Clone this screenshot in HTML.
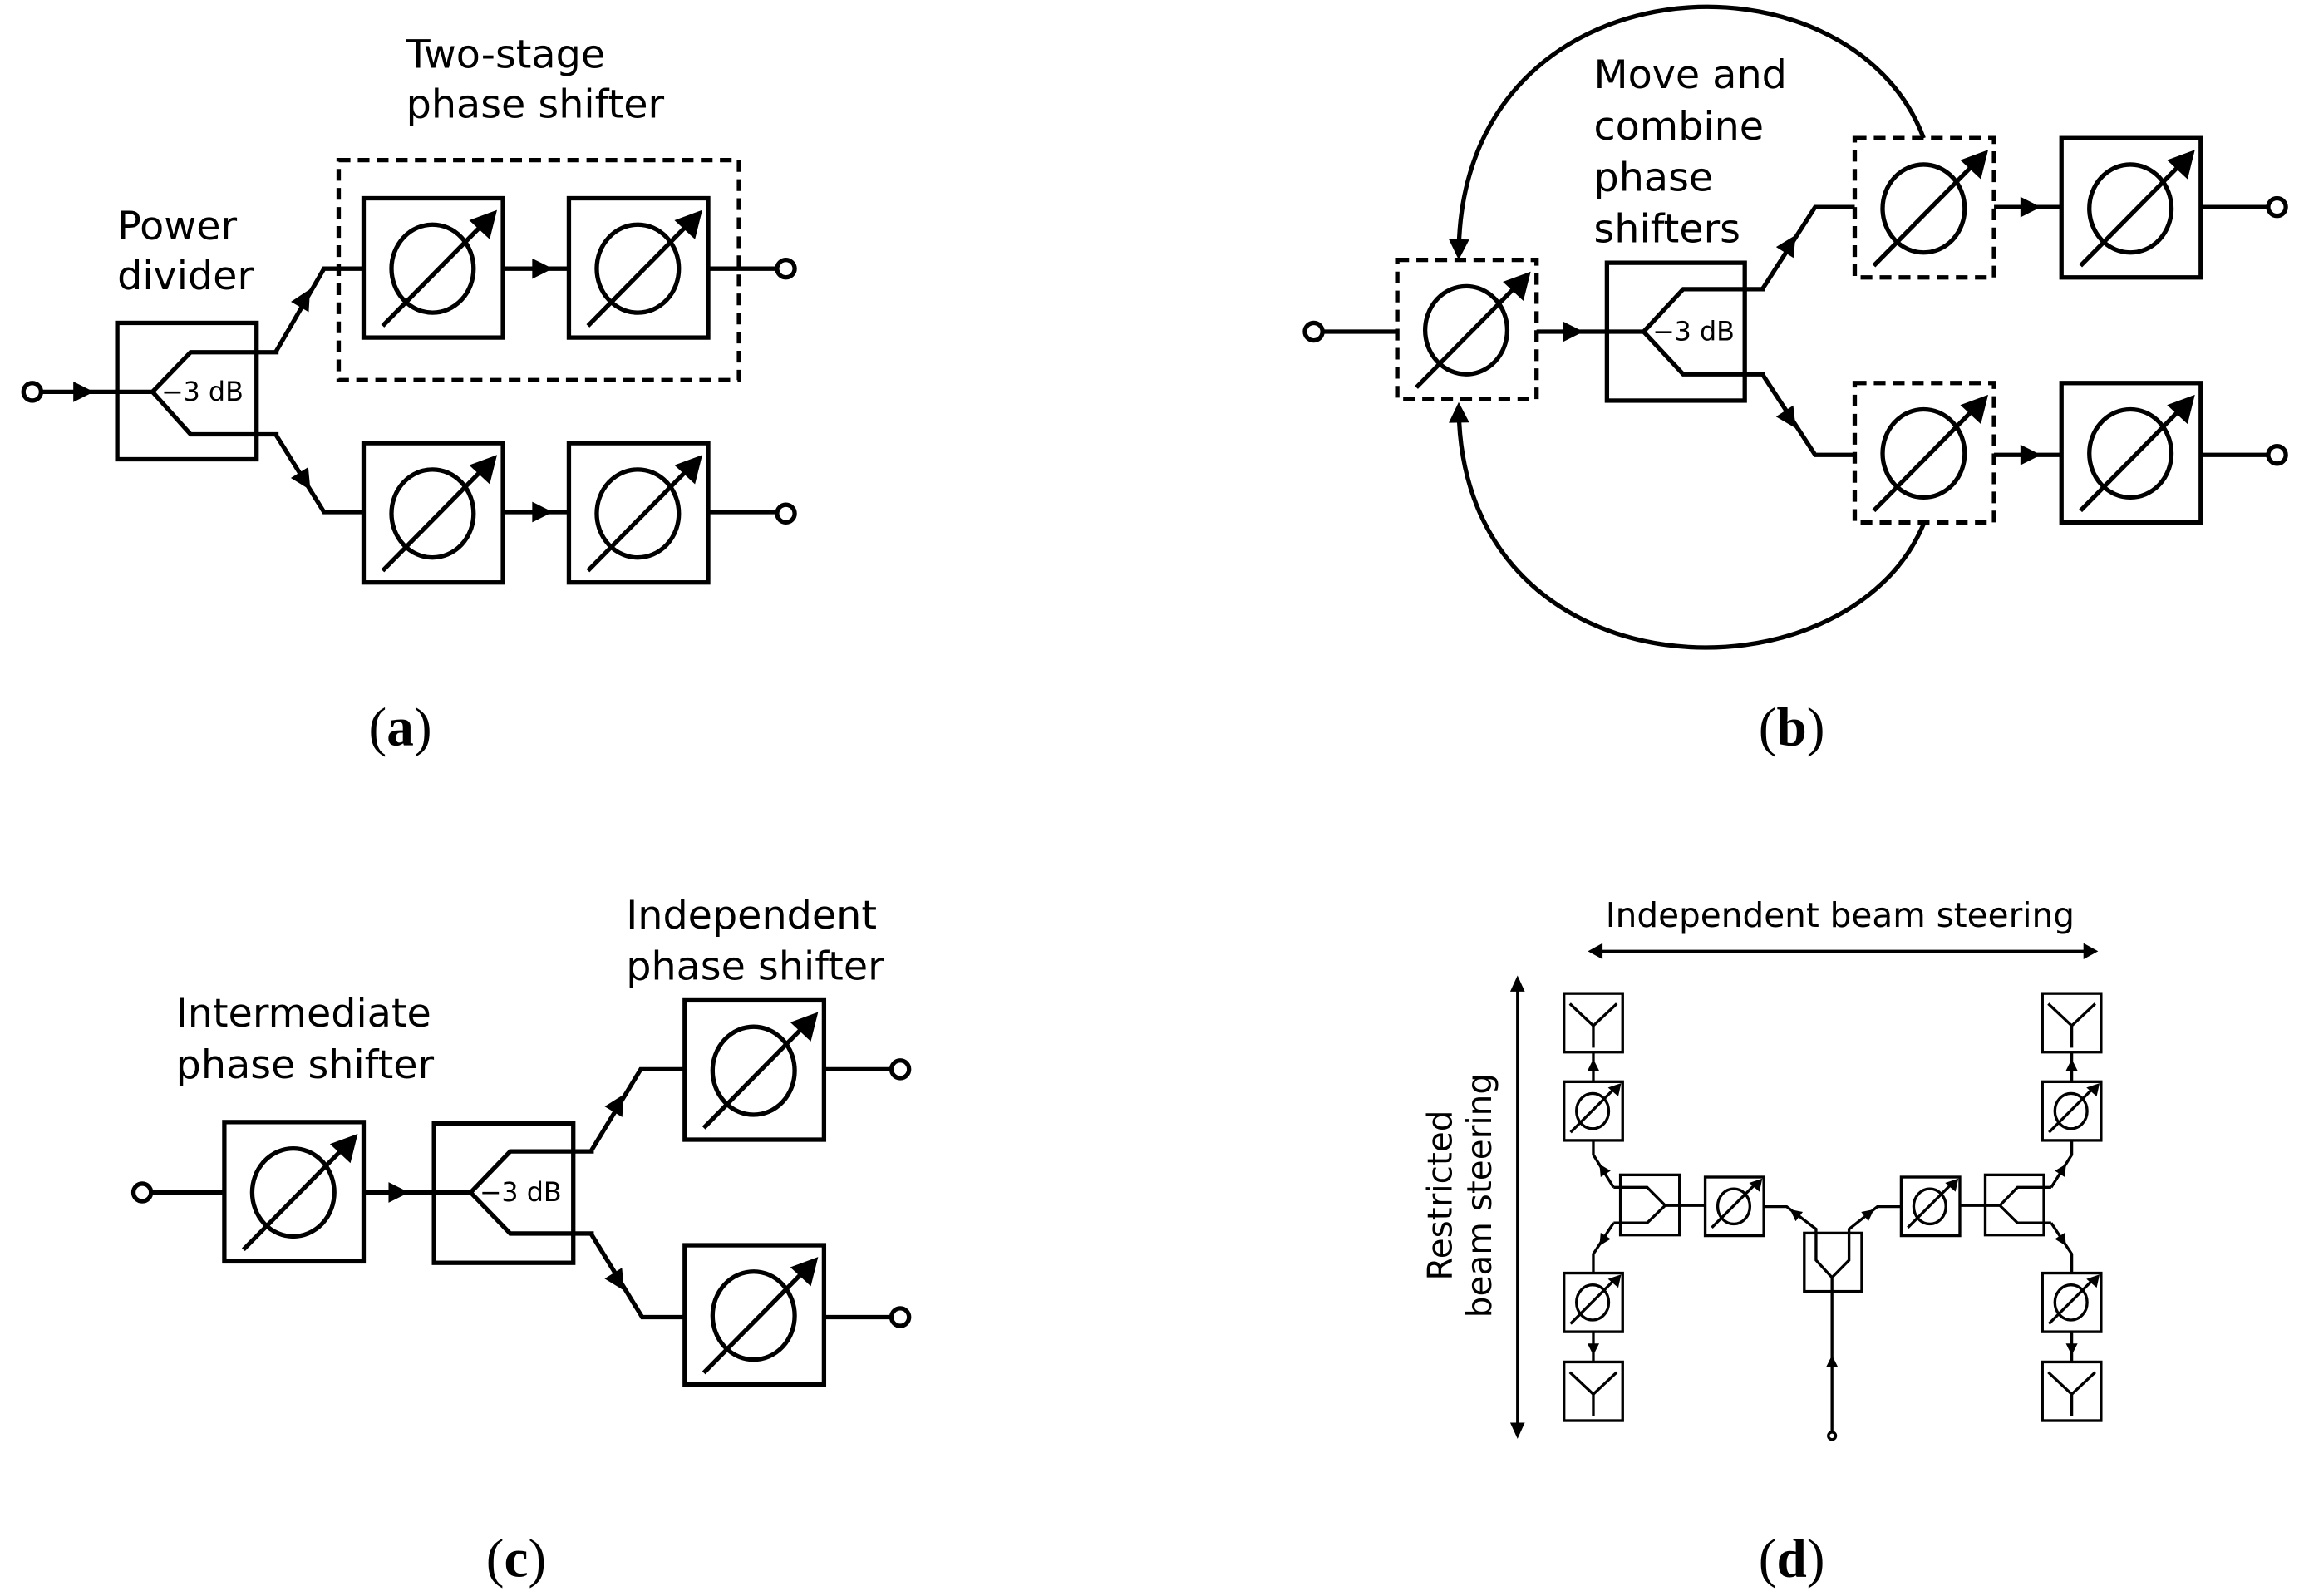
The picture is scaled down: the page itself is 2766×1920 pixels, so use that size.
<!DOCTYPE html>
<html><head><meta charset="utf-8"><style>html,body{margin:0;padding:0;background:#fff}svg{display:block}</style></head>
<body>
<svg width="2766" height="1920" viewBox="0 0 1568 1088" xmlns="http://www.w3.org/2000/svg">
<defs>
<g id="ps">
<rect x="0" y="0" width="95" height="95" fill="none" stroke="#000" stroke-width="3"/>
<ellipse cx="47" cy="48" rx="28" ry="30" fill="none" stroke="#000" stroke-width="3"/>
<line x1="13" y1="87" x2="82" y2="17" stroke="#000" stroke-width="3"/>
<polygon points="91,8 86,28 72,15" fill="#000"/>
</g>
<g id="psd">
<rect x="0" y="0" width="95" height="95" fill="none" stroke="#000" stroke-width="3" stroke-dasharray="8 5"/>
<ellipse cx="47" cy="48" rx="28" ry="30" fill="none" stroke="#000" stroke-width="3"/>
<line x1="13" y1="87" x2="82" y2="17" stroke="#000" stroke-width="3"/>
<polygon points="91,8 86,28 72,15" fill="#000"/>
</g>
<g id="psS">
<rect x="0" y="0" width="40" height="40" fill="none" stroke="#000" stroke-width="1.9"/>
<ellipse cx="19.5" cy="20" rx="11" ry="12" fill="none" stroke="#000" stroke-width="1.9"/>
<line x1="4.5" y1="34.5" x2="35" y2="4" stroke="#000" stroke-width="1.9"/>
<polygon points="39,1 37,10 30,4" fill="#000"/>
</g>
<g id="ant">
<rect x="0" y="0" width="40" height="40" fill="none" stroke="#000" stroke-width="1.9"/>
<polyline points="4,7 20,22 36,7" fill="none" stroke="#000" stroke-width="1.9"/>
<line x1="20" y1="22" x2="20" y2="37" stroke="#000" stroke-width="1.9"/>
</g>
<polygon id="ah" points="-7,-7 7,0 -7,7" fill="#000"/>
<polygon id="ahs" points="-4,-4 4,0 -4,4" fill="#000"/>
</defs>

<g font-family="'DejaVu Sans','Liberation Sans',sans-serif" fill="#000">
<!-- Panel (a) -->
<g stroke="#000" stroke-width="3" fill="none">
<circle cx="22" cy="267" r="6"/>
<line x1="28" y1="267" x2="104" y2="267"/>
<rect x="80" y="220" width="95" height="93"/>
<polyline points="190,240 130,240 104,267 130,296 190,296"/>
<polyline points="188,240 221,183 248,183"/>
<polyline points="188,296 221,349 248,349"/>
<line x1="343" y1="183" x2="388" y2="183"/>
<line x1="483" y1="183" x2="530" y2="183"/>
<circle cx="536" cy="183" r="6"/>
<line x1="343" y1="349" x2="388" y2="349"/>
<line x1="483" y1="349" x2="530" y2="349"/>
<circle cx="536" cy="350" r="6"/>
<rect x="231" y="109" width="273" height="150" stroke-dasharray="8 5"/>
</g>
<use href="#ah" transform="translate(57,267)"/>
<use href="#ah" transform="translate(370,183)"/>
<use href="#ah" transform="translate(370,349)"/>
<use href="#ah" transform="translate(208,203) rotate(-60)"/>
<use href="#ah" transform="translate(208,328) rotate(58)"/>
<use href="#ps" transform="translate(248,135)"/>
<use href="#ps" transform="translate(388,135)"/>
<use href="#ps" transform="translate(248,302)"/>
<use href="#ps" transform="translate(388,302)"/>
<text x="110" y="273" font-size="18">−3 dB</text>
<text x="277" y="46" font-size="27">Two-stage</text>
<text x="277" y="80" font-size="27">phase shifter</text>
<text x="80" y="163" font-size="27">Power</text>
<text x="80" y="197" font-size="27">divider</text>

<!-- Panel (b) -->
<g stroke="#000" stroke-width="3" fill="none">
<circle cx="896" cy="226" r="6"/>
<line x1="902" y1="226" x2="953" y2="226"/>
<line x1="1048" y1="226" x2="1121" y2="226"/>
<rect x="1096" y="179" width="94" height="94"/>
<polyline points="1204,197 1148,197 1121,226 1148,255 1204,255"/>
<polyline points="1202,197 1238,141 1265,141"/>
<polyline points="1202,255 1238,310 1265,310"/>
<line x1="1360" y1="141" x2="1406" y2="141"/>
<line x1="1360" y1="310" x2="1406" y2="310"/>
<line x1="1501" y1="141" x2="1547" y2="141"/>
<line x1="1501" y1="310" x2="1547" y2="310"/>
<circle cx="1553" cy="141" r="6"/>
<circle cx="1553" cy="310" r="6"/>
<path d="M1312,94 C1262,-40 1000,-30 995,168"/>
<path d="M1312,357 C1260,482 1000,477 995,282"/>
</g>
<use href="#ah" transform="translate(1073,226)"/>
<use href="#ah" transform="translate(1385,141)"/>
<use href="#ah" transform="translate(1385,310)"/>
<use href="#ah" transform="translate(1221,166) rotate(-58)"/>
<use href="#ah" transform="translate(1221,286) rotate(57)"/>
<use href="#ah" transform="translate(995,170) rotate(91)"/>
<use href="#ah" transform="translate(995,281) rotate(-91)"/>
<use href="#psd" transform="translate(953,177)"/>
<use href="#psd" transform="translate(1265,94)"/>
<use href="#psd" transform="translate(1265,261)"/>
<use href="#ps" transform="translate(1406,94)"/>
<use href="#ps" transform="translate(1406,261)"/>
<text x="1127" y="232" font-size="18">−3 dB</text>
<text x="1087" y="60" font-size="27">Move and</text>
<text x="1087" y="95" font-size="27">combine</text>
<text x="1087" y="130" font-size="27">phase</text>
<text x="1087" y="165" font-size="27">shifters</text>

<!-- Panel (c) -->
<g stroke="#000" stroke-width="3" fill="none">
<circle cx="97" cy="813" r="6"/>
<line x1="103" y1="813" x2="153" y2="813"/>
<line x1="248" y1="813" x2="321" y2="813"/>
<rect x="296" y="766" width="95" height="95"/>
<polyline points="405,785 348,785 321,813 348,841 405,841"/>
<polyline points="403,785 437,729 467,729"/>
<polyline points="403,841 438,898 467,898"/>
<line x1="561" y1="729" x2="608" y2="729"/>
<line x1="561" y1="898" x2="608" y2="898"/>
<circle cx="614" cy="729" r="6"/>
<circle cx="614" cy="898" r="6"/>
</g>
<use href="#ah" transform="translate(272,813)"/>
<use href="#ah" transform="translate(422,752) rotate(-59)"/>
<use href="#ah" transform="translate(422,874) rotate(58)"/>
<use href="#ps" transform="translate(153,765)"/>
<use href="#ps" transform="translate(467,682)"/>
<use href="#ps" transform="translate(467,849)"/>
<text x="327" y="819" font-size="18">−3 dB</text>
<text x="427" y="633" font-size="27">Independent</text>
<text x="427" y="668" font-size="27">phase shifter</text>
<text x="120" y="700" font-size="27">Intermediate</text>
<text x="120" y="735" font-size="27">phase shifter</text>

<!-- Panel (d) -->
<g stroke="#000" stroke-width="1.9" fill="none">
<line x1="1090" y1="648.5" x2="1424" y2="648.5"/>
<line x1="1035" y1="672" x2="1035" y2="974"/>
<line x1="1086.7" y1="717" x2="1086.7" y2="738"/>
<polyline points="1086.7,777.6 1086.7,787.3 1100.5,809.5"/>
<polyline points="1086.7,868 1086.7,855 1100.5,833.8"/>
<line x1="1086.7" y1="908" x2="1086.7" y2="929"/>
<rect x="1105.2" y="801" width="40.3" height="41"/>
<polyline points="1100.5,809.5 1123.4,809.5 1135.7,821.9 1123.4,833.8 1100.5,833.8"/>
<line x1="1135.7" y1="821.9" x2="1163" y2="821.9"/>
<rect x="1230.6" y="840.7" width="39.2" height="39.8"/>
<polyline points="1204,822.7 1218.6,822.7 1238.6,838 1238.6,859.2 1249.5,871 1261.1,859.2 1261.1,838 1280.4,822.7 1296.7,822.7"/>
<line x1="1249.5" y1="871" x2="1249.5" y2="977"/>
<circle cx="1249.5" cy="979" r="2.5"/>
<rect x="1354" y="801" width="40" height="41"/>
<line x1="1336.7" y1="821.9" x2="1364" y2="821.9"/>
<polyline points="1399,809.5 1376,809.5 1364,821.9 1376,833.8 1399,833.8"/>
<polyline points="1399,809.5 1413,787.3 1413,777.6"/>
<polyline points="1399,833.8 1413,855 1413,868"/>
<line x1="1413" y1="717" x2="1413" y2="738"/>
<line x1="1413" y1="908" x2="1413" y2="929"/>
</g>
<polygon points="1083,648.5 1093,643 1093,654" fill="#000"/>
<polygon points="1431,648.5 1421,643 1421,654" fill="#000"/>
<polygon points="1035,665 1030,676 1040,676" fill="#000"/>
<polygon points="1035,981 1030,970 1040,970" fill="#000"/>
<use href="#ahs" transform="translate(1086.7,726) rotate(-90)"/>
<use href="#ahs" transform="translate(1086.7,920) rotate(90)"/>
<use href="#ahs" transform="translate(1413,726) rotate(-90)"/>
<use href="#ahs" transform="translate(1413,920) rotate(90)"/>
<use href="#ahs" transform="translate(1093,797) rotate(-122)"/>
<use href="#ahs" transform="translate(1093,846) rotate(122)"/>
<use href="#ahs" transform="translate(1407,797) rotate(-58)"/>
<use href="#ahs" transform="translate(1407,846) rotate(58)"/>
<use href="#ahs" transform="translate(1224,827) rotate(-142)"/>
<use href="#ahs" transform="translate(1275,827) rotate(-38)"/>
<use href="#ahs" transform="translate(1249.5,928) rotate(-90)"/>
<use href="#ant" transform="translate(1066.7,677.3)"/>
<use href="#psS" transform="translate(1066.7,737.5)"/>
<use href="#psS" transform="translate(1066.7,868)"/>
<use href="#ant" transform="translate(1066.7,928.6)"/>
<use href="#ant" transform="translate(1393,677.3)"/>
<use href="#psS" transform="translate(1393,737.5)"/>
<use href="#psS" transform="translate(1393,868)"/>
<use href="#ant" transform="translate(1393,928.6)"/>
<use href="#psS" transform="translate(1163,802.5)"/>
<use href="#psS" transform="translate(1296.7,802.5)"/>
<text x="1255" y="632" font-size="23" text-anchor="middle">Independent beam steering</text>
<g transform="translate(990,815) rotate(-90)">
<text x="0" y="0" font-size="23" text-anchor="middle">Restricted</text>
<text x="0" y="27" font-size="23" text-anchor="middle">beam steering</text>
</g>
</g>

<g font-family="'Liberation Serif','DejaVu Serif',serif" font-size="37" text-anchor="middle" fill="#000">
<text x="273" y="508">(<tspan font-weight="bold">a</tspan>)</text>
<text x="1222" y="508">(<tspan font-weight="bold">b</tspan>)</text>
<text x="352" y="1075">(<tspan font-weight="bold">c</tspan>)</text>
<text x="1222" y="1075">(<tspan font-weight="bold">d</tspan>)</text>
</g>
</svg>
</body></html>
